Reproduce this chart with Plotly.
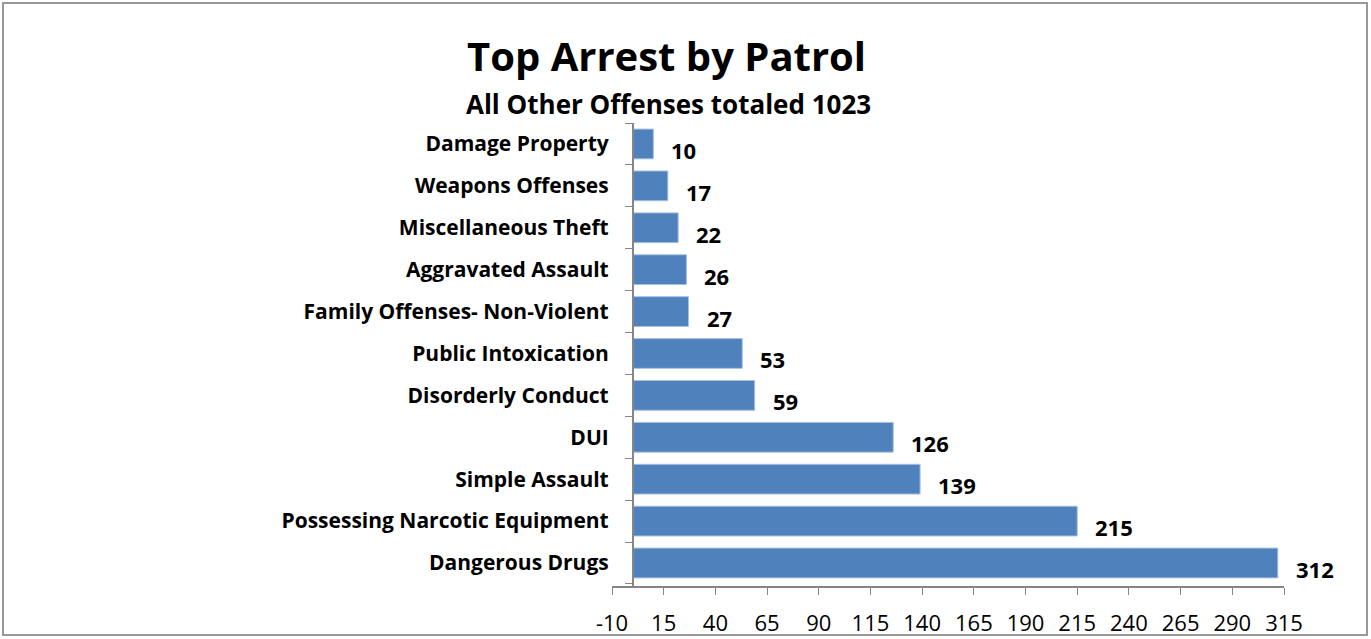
import plotly.graph_objects as go

categories = ["Dangerous Drugs", "Possessing Narcotic Equipment", "Simple Assault", "DUI",
              "Disorderly Conduct", "Public Intoxication", "Family Offenses- Non-Violent",
              "Aggravated Assault", "Miscellaneous Theft", "Weapons Offenses", "Damage Property"]
values = [312, 215, 139, 126, 59, 53, 27, 26, 22, 17, 10]
x_ticks = list(range(-10, 316, 25))
x_tick_labels = [str(t) for t in x_ticks]

W, H = 1371, 639
ml, mr, mt, mb = 612, 87, 123, 53
xmin, xmax = -10, 315
PW, PH = W - ml - mr, H - mt - mb
FONT = "Open Sans"

fig = go.Figure()
fig.add_trace(go.Bar(
    y=categories, x=values, orientation="h",
    marker=dict(color="#4F81BD", line=dict(color="#A7C0E0", width=1)),
    width=0.71,
    hoverinfo="skip",
))

for c, v in zip(categories, values):
    fig.add_annotation(x=v, y=c, text=f"<b>{v}</b>", showarrow=False,
                       xanchor="left", yanchor="middle", xshift=16, yshift=-6,
                       font=dict(family=FONT, size=22, color="black"))

frac0 = (0 - xmin) / (xmax - xmin)
fig.update_layout(
    width=W, height=H,
    margin=dict(l=ml, r=mr, t=mt, b=mb, autoexpand=False),
    paper_bgcolor="white", plot_bgcolor="white",
    showlegend=False,
    xaxis=dict(range=[xmin, xmax], tickmode="array", tickvals=x_ticks, ticktext=x_tick_labels,
               ticks="outside", ticklen=7, tickcolor="#868686",
               showline=True, linecolor="#868686", linewidth=1.5,
               showgrid=False, zeroline=False, ticklabelstandoff=10, automargin=False,
               tickfont=dict(family=FONT, size=22, color="black")),
    yaxis=dict(anchor="free", position=frac0,
               ticks="outside", ticklen=7, tickcolor="#868686", tickson="boundaries",
               showline=True, linecolor="#868686", linewidth=1.5,
               showgrid=False, zeroline=False, automargin=False,
               tickfont=dict(family=FONT, size=21, color="black", weight="bold"),
               ticklabelstandoff=19),
    shapes=[dict(type="rect", xref="paper", yref="paper",
                 x0=(3 - ml) / PW, x1=(1367 - ml) / PW,
                 y0=(H - mb - 635) / PH, y1=(H - mb - 3) / PH,
                 line=dict(color="#999999", width=2))],
)
fig.add_annotation(xref="paper", yref="paper", x=(666 - ml) / PW, y=(H - mb - 55) / PH,
                   text="<b>Top Arrest by Patrol</b>", showarrow=False, xanchor="center", yanchor="middle",
                   font=dict(family=FONT, size=40, color="black"))
fig.add_annotation(xref="paper", yref="paper", x=(668 - ml) / PW, y=(H - mb - 104) / PH,
                   text="<b>All Other Offenses totaled 1023</b>", showarrow=False, xanchor="center", yanchor="middle",
                   font=dict(family=FONT, size=26, color="black"))

fig.write_html("out.html", config={"displayModeBar": False},
               post_script="document.body.style.margin='0';")
